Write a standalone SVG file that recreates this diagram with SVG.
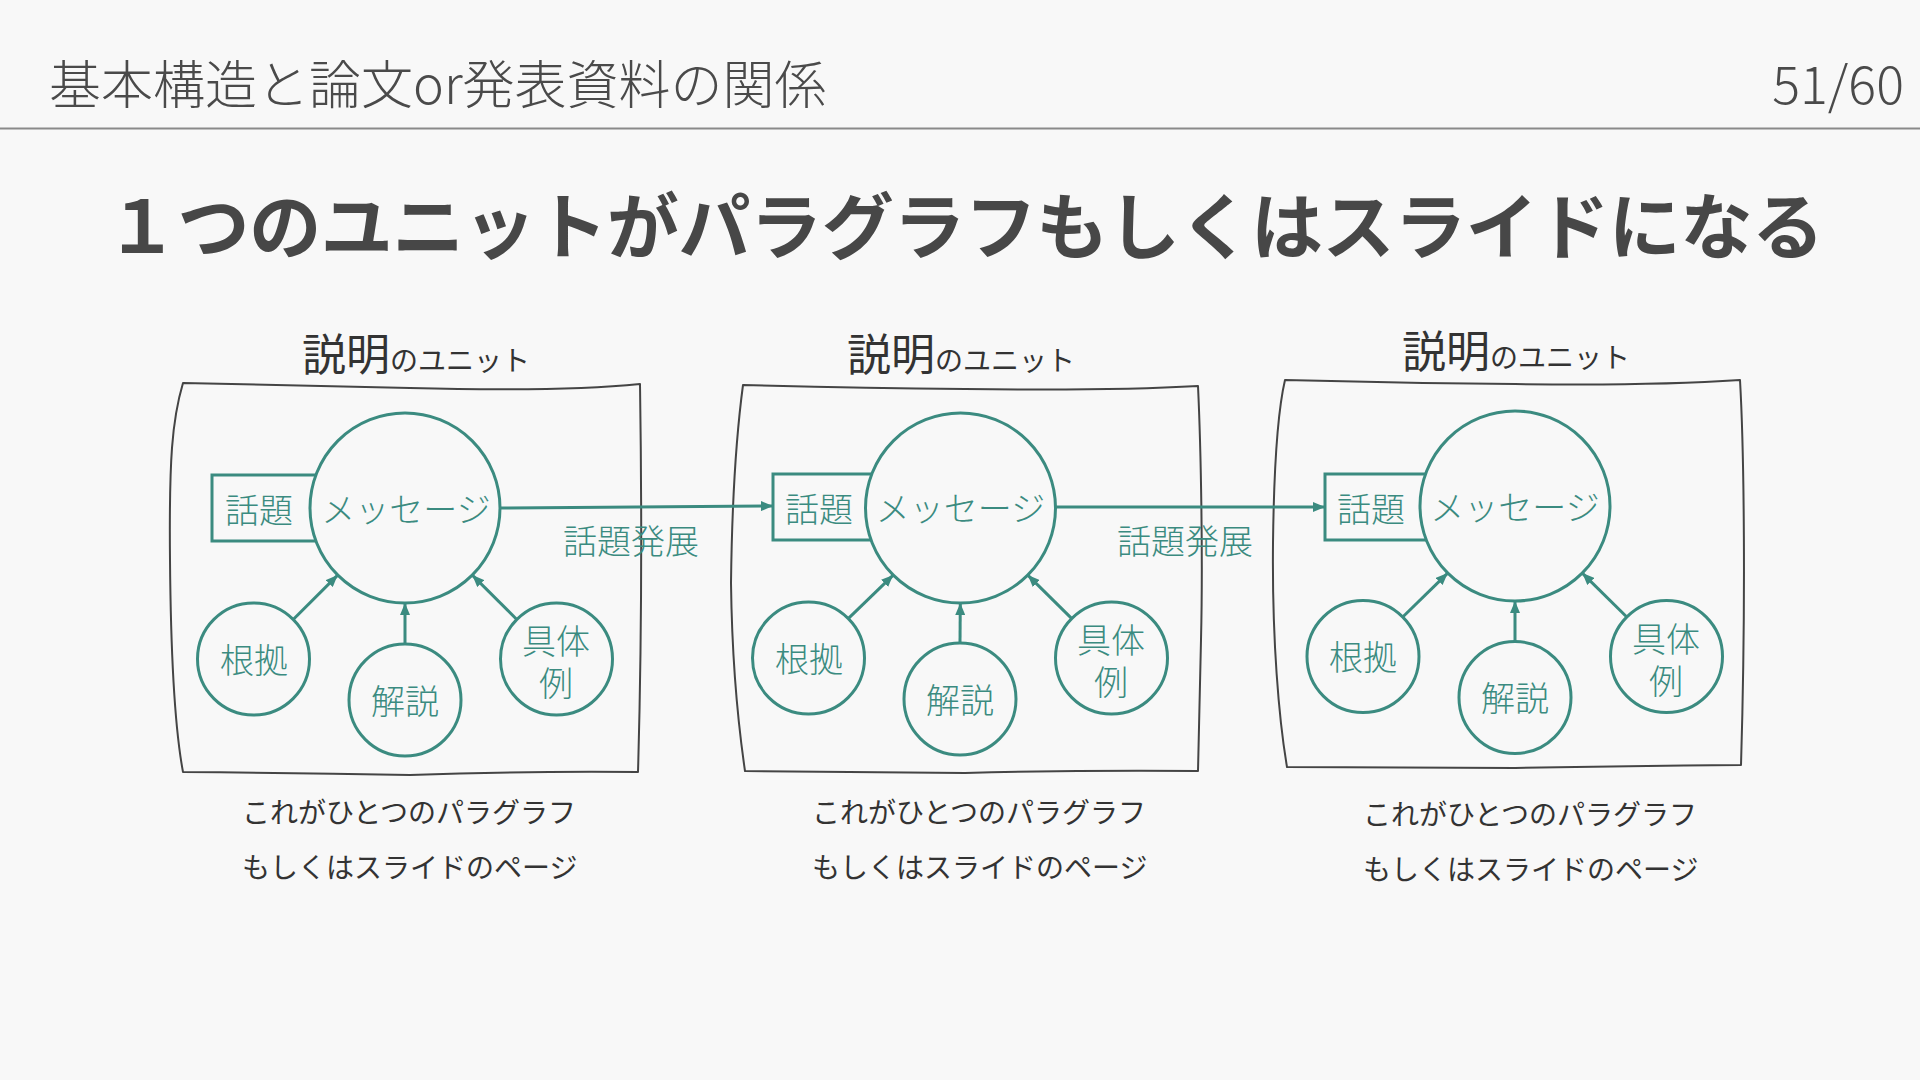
<svg xmlns="http://www.w3.org/2000/svg" width="1920" height="1080" viewBox="0 0 1920 1080">
<defs>
<style>
.jp{font-family:"Noto Sans CJK JP","Noto Sans",sans-serif;}
.hdr{font-size:52px;fill:#4a4a4a;font-weight:300;}
.sub{font-size:72px;fill:#474747;font-weight:700;}
.hand{fill:#333333;}
.frame{fill:none;stroke:#444444;stroke-width:2;stroke-linejoin:round;}
.node{fill:#f8f8f8;stroke:#3b8b80;stroke-width:3;}
.nt{font-size:34px;fill:#3b8b80;font-weight:300;text-anchor:middle;dominant-baseline:central;}
.edge{fill:none;stroke:#3b8b80;stroke-width:3;}
.cap{font-size:28px;fill:#333333;dominant-baseline:central;}
</style>
<marker id="ah" markerUnits="userSpaceOnUse" markerWidth="12" markerHeight="10" viewBox="0 0 12 10" refX="12" refY="5" orient="auto">
<path d="M0,0 L12,5 L0,10 z" fill="#3b8b80"/>
</marker>
</defs>
<rect x="0" y="0" width="1920" height="1080" fill="#f8f8f8"/>

<g id="header">
<text class="jp hdr" x="49" y="104">基本構造と論文or発表資料の関係</text>
<text class="jp hdr" x="1904" y="104" text-anchor="end" font-size="46">51/60</text>
<line x1="0" y1="128.5" x2="1920" y2="128.5" stroke="#8a8a8a" stroke-width="2"/>
</g>

<text id="subtitle" class="jp sub" x="106" y="253" textLength="1718" lengthAdjust="spacing">１つのユニットがパラグラフもしくはスライドになる</text>

<!-- frames -->
<g id="unit1-frame">
<path class="frame" d="M183,383 Q300,386 410,388 Q560,392 640,384 C641,450 643,600 638,772 Q520,771 410,775 Q300,773 183,772 C177,740 171,680 170,560 C169,460 172,420 183,383 Z"/>
<text class="jp hand" x="416" y="371" text-anchor="middle"><tspan font-size="44">説明</tspan><tspan font-size="28">のユニット</tspan></text>
<text class="jp cap" x="242" y="811">これがひとつのパラグラフ</text>
<text class="jp cap" x="242" y="866">もしくはスライドのページ</text>
</g>
<g id="unit2-frame">
<path class="frame" d="M743,385 Q860,388 965,389 Q1110,391 1198,386 C1201,450 1203,560 1201,640 C1200,700 1199,740 1198,771 Q1080,770 965,773 Q850,772 745,771 C739,730 732,660 731,583 C732,500 737,430 743,385 Z"/>
<text class="jp hand" x="961" y="371" text-anchor="middle"><tspan font-size="44">説明</tspan><tspan font-size="28">のユニット</tspan></text>
<text class="jp cap" x="812" y="811">これがひとつのパラグラフ</text>
<text class="jp cap" x="812" y="866">もしくはスライドのページ</text>
</g>
<g id="unit3-frame">
<path class="frame" d="M1285,380 Q1400,383 1515,384 Q1650,386 1740,380 C1744,450 1746,600 1741,765 Q1620,766 1515,768 Q1400,767 1287,767 C1279,720 1272,640 1273,543 C1274,460 1278,410 1285,380 Z"/>
<text class="jp hand" x="1516" y="368" text-anchor="middle"><tspan font-size="44">説明</tspan><tspan font-size="28">のユニット</tspan></text>
<text class="jp cap" x="1363" y="813">これがひとつのパラグラフ</text>
<text class="jp cap" x="1363" y="868">もしくはスライドのページ</text>
</g>

<!-- unit 1 nodes -->
<g id="u1-topic"><rect class="node" x="212" y="475" width="130" height="66"/><text class="jp nt" x="259" y="508">話題</text></g>
<g id="u1-message"><circle class="node" cx="405" cy="508" r="95"/><text class="jp nt" x="406" y="507">メッセージ</text></g>
<g id="u1-evidence"><circle class="node" cx="253.5" cy="659" r="56"/><text class="jp nt" x="254" y="658">根拠</text></g>
<g id="u1-explain"><circle class="node" cx="405" cy="700" r="56"/><text class="jp nt" x="405" y="699">解説</text></g>
<g id="u1-example"><circle class="node" cx="556.5" cy="659" r="56"/><text class="jp nt" x="556" y="639"><tspan x="556" y="639">具体</tspan><tspan x="556" y="681">例</tspan></text></g>

<!-- unit 2 nodes -->
<g id="u2-topic"><rect class="node" x="773" y="474" width="130" height="66"/><text class="jp nt" x="819" y="507">話題</text></g>
<g id="u2-message"><circle class="node" cx="960.5" cy="508" r="95"/><text class="jp nt" x="960.5" y="506">メッセージ</text></g>
<g id="u2-evidence"><circle class="node" cx="808.5" cy="658" r="56"/><text class="jp nt" x="809" y="657">根拠</text></g>
<g id="u2-explain"><circle class="node" cx="960" cy="699" r="56"/><text class="jp nt" x="960" y="698">解説</text></g>
<g id="u2-example"><circle class="node" cx="1111.5" cy="658" r="56"/><text class="jp nt" x="1111" y="638"><tspan x="1111" y="638">具体</tspan><tspan x="1111" y="680">例</tspan></text></g>

<!-- unit 3 nodes -->
<g id="u3-topic"><rect class="node" x="1325" y="474" width="130" height="66"/><text class="jp nt" x="1371" y="507">話題</text></g>
<g id="u3-message"><circle class="node" cx="1515" cy="506" r="95"/><text class="jp nt" x="1515" y="505">メッセージ</text></g>
<g id="u3-evidence"><circle class="node" cx="1363" cy="656.5" r="56"/><text class="jp nt" x="1363" y="655">根拠</text></g>
<g id="u3-explain"><circle class="node" cx="1515" cy="697.5" r="56"/><text class="jp nt" x="1515" y="696">解説</text></g>
<g id="u3-example"><circle class="node" cx="1666.5" cy="656.5" r="56"/><text class="jp nt" x="1666" y="637"><tspan x="1666" y="637">具体</tspan><tspan x="1666" y="679">例</tspan></text></g>

<!-- connectors -->
<g id="connectors">
<line class="edge" x1="500" y1="508" x2="773" y2="506" marker-end="url(#ah)"/>
<text class="jp nt" x="631" y="539">話題発展</text>
<line class="edge" x1="1055.5" y1="507" x2="1325" y2="507" marker-end="url(#ah)"/>
<text class="jp nt" x="1185" y="539">話題発展</text>

<line class="edge" x1="293.2" y1="619.5" x2="337.7" y2="575.1" marker-end="url(#ah)"/>
<line class="edge" x1="405" y1="644" x2="405" y2="603" marker-end="url(#ah)"/>
<line class="edge" x1="516.8" y1="619.5" x2="472.3" y2="575.1" marker-end="url(#ah)"/>

<line class="edge" x1="848.2" y1="618.6" x2="893.2" y2="575.1" marker-end="url(#ah)"/>
<line class="edge" x1="960" y1="643" x2="960.3" y2="603" marker-end="url(#ah)"/>
<line class="edge" x1="1071.8" y1="618.6" x2="1027.8" y2="575.1" marker-end="url(#ah)"/>

<line class="edge" x1="1402.7" y1="617" x2="1447.7" y2="573.1" marker-end="url(#ah)"/>
<line class="edge" x1="1515" y1="641.5" x2="1515" y2="601" marker-end="url(#ah)"/>
<line class="edge" x1="1626.8" y1="617" x2="1582.3" y2="573.1" marker-end="url(#ah)"/>
</g>
</svg>
